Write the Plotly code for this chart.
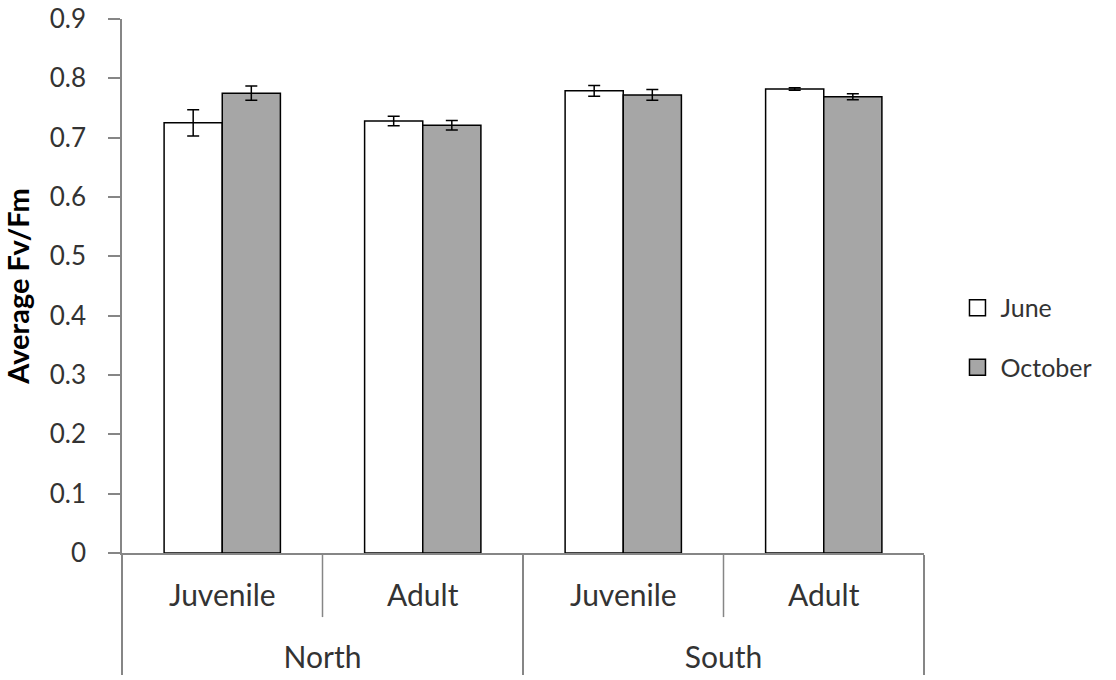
import plotly.graph_objects as go

sites = ["North", "North", "South", "South"]
stages = ["Juvenile", "Adult", "Juvenile", "Adult"]
june = [0.725, 0.728, 0.779, 0.782]
june_err = [0.022, 0.008, 0.009, 0.002]
october = [0.775, 0.721, 0.772, 0.769]
october_err = [0.012, 0.008, 0.009, 0.005]
series_names = ["June", "October"]
series_fill = ["white", "#A6A6A6"]

FONT = "Lato"
TXT = "#333333"
AX = "#868686"

# outer level label shown one line lower (as in the reference)
site_labels = ["<br>" + s for s in sites]

fig = go.Figure()
for vals, errs, name, fill in zip([june, october], [june_err, october_err], series_names, series_fill):
    fig.add_trace(go.Bar(
        x=[site_labels, stages], y=vals, name=name, showlegend=False,
        marker=dict(color=fill, line=dict(color="black", width=1.5)),
        error_y=dict(type="data", array=errs, color="black", thickness=1.5, width=6),
    ))
# legend entries (larger square swatches)
for name, fill in zip(series_names, series_fill):
    fig.add_trace(go.Scatter(
        x=[None], y=[None], mode="markers", name=name, legendgroup=name,
        marker=dict(symbol="square", size=17, color=fill, line=dict(color="black", width=1.5)),
        xaxis="x2", yaxis="y2",
    ))

# inner-level dividers between stages within the same site
for i in range(len(sites) - 1):
    if sites[i] == sites[i + 1]:
        fig.add_shape(type="line", xref="x", yref="paper", x0=i + 0.5, x1=i + 0.5,
                      y0=0, y1=-0.12, line=dict(color=AX, width=1.5), layer="below")

fig.update_layout(
    width=1116, height=680,
    margin=dict(l=122, r=192, t=19, b=127, autoexpand=False),
    paper_bgcolor="white", plot_bgcolor="white",
    barmode="group", bargap=0.42, bargroupgap=0,
    font=dict(family=FONT, size=26, color=TXT),
    showlegend=True,
    legend=dict(x=1.038, y=0.502, xanchor="left", yanchor="top",
                font=dict(size=25, color=TXT), tracegroupgap=24,
                traceorder="grouped", itemwidth=36),
    xaxis2=dict(overlaying="x", visible=False),
    yaxis2=dict(overlaying="y", visible=False),
    yaxis=dict(
        range=[0, 0.9], dtick=0.1, tickformat="~g",
        showgrid=False, zeroline=False, automargin=False,
        showline=True, linecolor=AX, linewidth=1.5,
        ticks="outside", ticklen=12, tickcolor=AX, tickwidth=1.5,
        ticklabelstandoff=17,
        tickfont=dict(size=26, color=TXT),
        title=dict(text="<b>Average Fv/Fm</b>", font=dict(size=29, color="black"), standoff=12),
    ),
    xaxis=dict(
        showgrid=False, showline=True, linecolor=AX, linewidth=1.5, automargin=False,
        ticks="", showdividers=True, dividercolor=AX, dividerwidth=1.5,
        ticklabelstandoff=15,
        tickfont=dict(size=30, color=TXT),
    ),
)

fig.write_html("out.html", config={"displayModeBar": False},
               post_script="document.body.style.margin='0';window.dispatchEvent(new Event('resize'));")
